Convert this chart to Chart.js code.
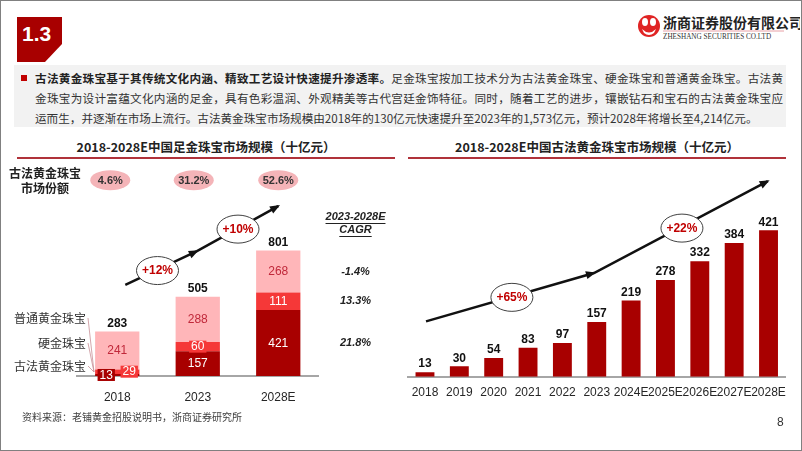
<!DOCTYPE html>
<html>
<head>
<meta charset="utf-8">
<script src="https://cdn.jsdelivr.net/npm/chart.js@4.4.0/dist/chart.umd.min.js"></script>
<style>
  body { margin: 0; width: 802px; height: 451px; overflow: hidden; background: #fff; font-family: "Noto Sans CJK SC", sans-serif; color: #333; }
  .abs { position: absolute; }
  #frame { left: 0; top: 0; width: 800px; height: 449px; border: 1px solid #808080; }
  #textbox { left: 14px; top: 65px; width: 772px; height: 62px; background: #f2f2f2; }
  .line { position: absolute; left: 35px; width: 748px; font-size: 11.6px; line-height: 20px; white-space: nowrap; color: #333; }
  .just { text-align: justify; text-align-last: justify; }
  .title { font-size: 12.5px; font-weight: bold; color: #222; text-align: center; }
  .rule { height: 2px; background: #b0323a; }
</style>
</head>
<body>
<div id="frame" class="abs"></div>

<!-- section tab -->
<svg class="abs" style="left:0;top:0" width="120" height="70">
  <polygon points="17,17 62,17 62,44 45,62 17,62" fill="#a80000"/>
  <text x="22" y="41" fill="#fff" font-family="Liberation Sans, Arial, sans-serif" font-weight="bold" font-size="21">1.3</text>
</svg>

<!-- logo -->
<svg class="abs" style="left:630px;top:8px" width="170" height="40">
  <circle cx="19" cy="18" r="11" fill="#e02424"/>
  <ellipse cx="15" cy="14" rx="3" ry="4" fill="#fff"/>
  <ellipse cx="23" cy="14" rx="3" ry="4" fill="#fff"/>
  <path d="M12 21 Q19 28 26 21 L24 25 Q19 29 14 25 Z" fill="#fff"/>
  <text x="33" y="20" font-family="Noto Sans CJK SC" font-weight="bold" font-size="14" fill="#222">浙商证券股份有限公司</text>
  <line x1="33" y1="23" x2="154" y2="23" stroke="#e8a0a6" stroke-width="1"/>
  <text x="33" y="31" font-family="Liberation Serif, serif" font-size="7.2" fill="#333">ZHESHANG SECURITIES CO.LTD</text>
</svg>

<div id="textbox" class="abs"></div>
<div class="abs" style="left:21px;top:75px;width:6px;height:6px;background:#c00000"></div>
<div class="line just" style="top:68px"><b style="color:#222">古法黄金珠宝基于其传统文化内涵、精致工艺设计快速提升渗透率。</b>足金珠宝按加工技术分为古法黄金珠宝、硬金珠宝和普通黄金珠宝。古法黄</div>
<div class="line just" style="top:88px">金珠宝为设计富蕴文化内涵的足金，具有色彩温润、外观精美等古代宫廷金饰特征。同时，随着工艺的进步，镶嵌钻石和宝石的古法黄金珠宝应</div>
<div class="line" style="top:108px">运而生，并逐渐在市场上流行。古法黄金珠宝市场规模由2018年的130亿元快速提升至2023年的1,573亿元，预计2028年将增长至4,214亿元。</div>

<div class="abs title" style="left:17px;top:137px;width:378px">2018-2028E中国足金珠宝市场规模（十亿元）</div>
<div class="abs rule" style="left:17px;top:157px;width:378px"></div>
<div class="abs title" style="left:408px;top:137px;width:378px">2018-2028E中国古法黄金珠宝市场规模（十亿元）</div>
<div class="abs rule" style="left:408px;top:157px;width:378px"></div>

<canvas id="leftChart" class="abs" style="left:0;top:160px" width="400" height="275"></canvas>
<canvas id="rightChart" class="abs" style="left:400px;top:160px" width="402" height="260"></canvas>

<div class="abs" style="left:22px;top:409px;font-size:10px;color:#404040">资料来源：老铺黄金招股说明书，浙商证券研究所</div>
<div class="abs" style="left:777px;top:415px;font-size:12px;color:#333;font-family:'Liberation Sans',Arial,sans-serif">8</div>

<script>
// ---- data: left chart (足金珠宝市场规模, 十亿元) ----
var leftYears = ["2018", "2023", "2028E"];
var guFa = [13, 157, 421];      // 古法黄金珠宝
var yingJin = [29, 60, 111];    // 硬金珠宝
var puTong = [241, 288, 268];   // 普通黄金珠宝
var leftTotals = [283, 505, 801];
var shareLabels = ["4.6%", "31.2%", "52.6%"];
var cagrLabels = ["21.8%", "13.3%", "-1.4%"]; // same order as the series
var seriesNames = ["古法黄金珠宝", "硬金珠宝", "普通黄金珠宝"];
var leftGrowth = ["+12%", "+10%"];

// ---- data: right chart (古法黄金珠宝市场规模, 十亿元) ----
var rightYears = ["2018", "2019", "2020", "2021", "2022", "2023", "2024E", "2025E", "2026E", "2027E", "2028E"];
var rightValues = [13, 30, 54, 83, 97, 157, 219, 278, 332, 384, 421];
var rightGrowth = ["+65%", "+22%"];

var DARK = "#a80000", MID = "#f53838", PINK = "#ffb6b9";
var NUM_FONT = '"Liberation Sans", Arial, sans-serif';

function drawArrow(ctx, pts) {
    ctx.save();
    ctx.strokeStyle = "#111";
    ctx.fillStyle = "#111";
    ctx.lineWidth = 2.5;
    ctx.beginPath();
    ctx.moveTo(pts[0][0], pts[0][1]);
    for (var i = 1; i < pts.length; i++) ctx.lineTo(pts[i][0], pts[i][1]);
    ctx.stroke();
    for (var j = 1; j < pts.length; j++) {
        var x0 = pts[j - 1][0], y0 = pts[j - 1][1], x1 = pts[j][0], y1 = pts[j][1];
        var a = Math.atan2(y1 - y0, x1 - x0), c = Math.cos(a), s = Math.sin(a);
        ctx.beginPath();
        ctx.moveTo(x1 + 2 * c, y1 + 2 * s);
        ctx.lineTo(x1 - 8 * c + 4 * s, y1 - 8 * s - 4 * c);
        ctx.lineTo(x1 - 8 * c - 4 * s, y1 - 8 * s + 4 * c);
        ctx.closePath();
        ctx.fill();
    }
    ctx.restore();
}

function drawBubble(ctx, x, y, text) {
    ctx.save();
    ctx.beginPath();
    ctx.ellipse(x, y, 21, 14, 0, 0, Math.PI * 2);
    ctx.fillStyle = "#fff";
    ctx.fill();
    ctx.strokeStyle = "#404040";
    ctx.lineWidth = 1;
    ctx.stroke();
    ctx.fillStyle = "#c00000";
    ctx.font = "bold 12px " + NUM_FONT;
    ctx.textAlign = "center";
    ctx.textBaseline = "middle";
    ctx.fillText(text, x, y + 0.5);
    ctx.restore();
}

// trend arrows / bubbles are placed in (category index, value) space
function pt(chart, i, v) {
    return [chart.scales.x.getPixelForValue(i), chart.scales.y.getPixelForValue(v)];
}

var leftLabels = {
    id: "leftLabels",
    afterDatasetsDraw: function (chart) {
        var ctx = chart.ctx, area = chart.chartArea;
        var colors = [DARK, MID, PINK];
        var nudge = { "0-0": -11, "1-0": 12 };
        ctx.save();
        ctx.textAlign = "center";
        ctx.textBaseline = "middle";
        ctx.font = "12px " + NUM_FONT;
        chart.data.datasets.forEach(function (ds, d) {
            chart.getDatasetMeta(d).data.forEach(function (bar, i) {
                var x = bar.x, y = (bar.y + bar.base) / 2;
                var h = Math.abs(bar.base - bar.y);
                var txt = String(ds.data[i]);
                if (h < 13) {
                    x += nudge[d + "-" + i] || 0;
                    var w = ctx.measureText(txt).width + 4;
                    ctx.fillStyle = colors[d];
                    ctx.fillRect(x - w / 2, y - 6, w, 12);
                }
                ctx.fillStyle = d === 2 ? "#c0283a" : "#fff";
                ctx.fillText(txt, x, y + 0.5);
            });
        });
        // totals
        var top = chart.getDatasetMeta(2).data;
        ctx.font = "bold 12px " + NUM_FONT;
        ctx.fillStyle = "#111";
        top.forEach(function (bar, i) {
            ctx.fillText(String(leftTotals[i]), bar.x, bar.y - 8);
        });
        // market-share pills
        var yPill = chart.scales.y.getPixelForValue(1248);
        var pillShift = [-7, -4, 0];
        ctx.font = "bold 11px " + NUM_FONT;
        top.forEach(function (bar, i) {
            var x = bar.x + pillShift[i];
            ctx.beginPath();
            ctx.ellipse(x, yPill, 20, 10, 0, 0, Math.PI * 2);
            ctx.fillStyle = "#f4b4b8";
            ctx.fill();
            ctx.fillStyle = "#333";
            ctx.fillText(shareLabels[i], x, yPill + 0.5);
        });
        ctx.font = "bold 12px 'Noto Sans CJK SC'";
        ctx.fillStyle = "#222";
        ctx.fillText("古法黄金珠宝", 45, yPill - 7);
        ctx.fillText("市场份额", 45, yPill + 8);

        // CAGR column, aligned with the 2028E segments
        var cx = area.right + 37;
        ctx.font = "italic bold 11px " + NUM_FONT;
        ctx.fillStyle = "#222";
        var hdr = ["2023-2028E", "CAGR"], hy = [area.top + 45, area.top + 58];
        hdr.forEach(function (t, k) {
            ctx.fillText(t, cx, hy[k]);
            var w = ctx.measureText(t).width;
            ctx.fillRect(cx - w / 2, hy[k] + 6, w, 1);
        });
        chart.data.datasets.forEach(function (ds, d) {
            var bar = chart.getDatasetMeta(d).data[2];
            ctx.fillText(cagrLabels[d], cx, (bar.y + bar.base) / 2);
        });

        // series names with leader lines
        var base = area.bottom;
        var ny = [base - 10, base - 33, base - 58];
        ctx.font = "12px 'Noto Sans CJK SC'";
        ctx.textAlign = "right";
        ctx.fillStyle = "#333";
        ctx.strokeStyle = "#c89098";
        ctx.lineWidth = 0.8;
        for (var k = 0; k < 3; k++) {
            ctx.fillText(seriesNames[k], area.left + 9, ny[k]);
            ctx.beginPath();
            ctx.moveTo(area.left + 11, ny[k]);
            ctx.lineTo(area.left + 17, base - 4);
            ctx.stroke();
        }
        ctx.restore();

        drawArrow(ctx, [pt(chart, 0.1, 580), pt(chart, 0.99, 796), pt(chart, 2.0, 1083)]);
        var b1 = pt(chart, 0.5, 672), b2 = pt(chart, 1.5, 936);
        drawBubble(ctx, b1[0], b1[1], leftGrowth[0]);
        drawBubble(ctx, b2[0], b2[1], leftGrowth[1]);
    }
};

var rightLabels = {
    id: "rightLabels",
    afterDatasetsDraw: function (chart) {
        var ctx = chart.ctx;
        ctx.save();
        ctx.textAlign = "center";
        ctx.textBaseline = "middle";
        ctx.font = "bold 12px " + NUM_FONT;
        ctx.fillStyle = "#111";
        chart.getDatasetMeta(0).data.forEach(function (bar, i) {
            ctx.fillText(String(rightValues[i]), bar.x, bar.y - 8);
        });
        ctx.restore();
        drawArrow(ctx, [pt(chart, 0.03, 159), pt(chart, 4.92, 298), pt(chart, 9.98, 562)]);
        var b1 = pt(chart, 2.53, 228), b2 = pt(chart, 7.48, 427);
        drawBubble(ctx, b1[0], b1[1], rightGrowth[0]);
        drawBubble(ctx, b2[0], b2[1], rightGrowth[1]);
    }
};

var xTicks = { color: "#262626", font: { family: NUM_FONT, size: 12 }, autoSkip: false, maxRotation: 0, minRotation: 0 };

new Chart(document.getElementById("leftChart").getContext("2d"), {
    type: "bar",
    data: {
        labels: leftYears,
        datasets: [
            { label: seriesNames[0], data: guFa, backgroundColor: DARK },
            { label: seriesNames[1], data: yingJin, backgroundColor: MID },
            { label: seriesNames[2], data: puTong, backgroundColor: PINK }
        ]
    },
    options: {
        responsive: false,
        animation: false,
        datasets: { bar: { barPercentage: 0.55, categoryPercentage: 1 } },
        layout: { padding: { left: 77, right: 81.5, top: 12, bottom: 16.6 } },
        plugins: { legend: { display: false }, tooltip: { enabled: false } },
        scales: {
            x: { stacked: true, grid: { display: false, drawTicks: false }, border: { display: true, color: "#a6a6a6", width: 2 },
                 ticks: Object.assign({ padding: 14 }, xTicks) },
            y: { stacked: true, display: false, min: 0, max: 1300 }
        }
    },
    plugins: [leftLabels]
});

new Chart(document.getElementById("rightChart").getContext("2d"), {
    type: "bar",
    data: {
        labels: rightYears,
        datasets: [{ label: "古法黄金珠宝", data: rightValues, backgroundColor: DARK }]
    },
    options: {
        responsive: false,
        animation: false,
        datasets: { bar: { barPercentage: 0.55, categoryPercentage: 1 } },
        layout: { padding: { left: 7.8, right: 16.3, top: 7.9, bottom: 12.3 } },
        plugins: { legend: { display: false }, tooltip: { enabled: false } },
        scales: {
            x: { grid: { display: false, drawTicks: false }, border: { display: true, color: "#a6a6a6", width: 2 },
                 ticks: Object.assign({ padding: 8.3 }, xTicks) },
            y: { display: false, min: 0, max: 600 }
        }
    },
    plugins: [rightLabels]
});
</script>
</body>
</html>
